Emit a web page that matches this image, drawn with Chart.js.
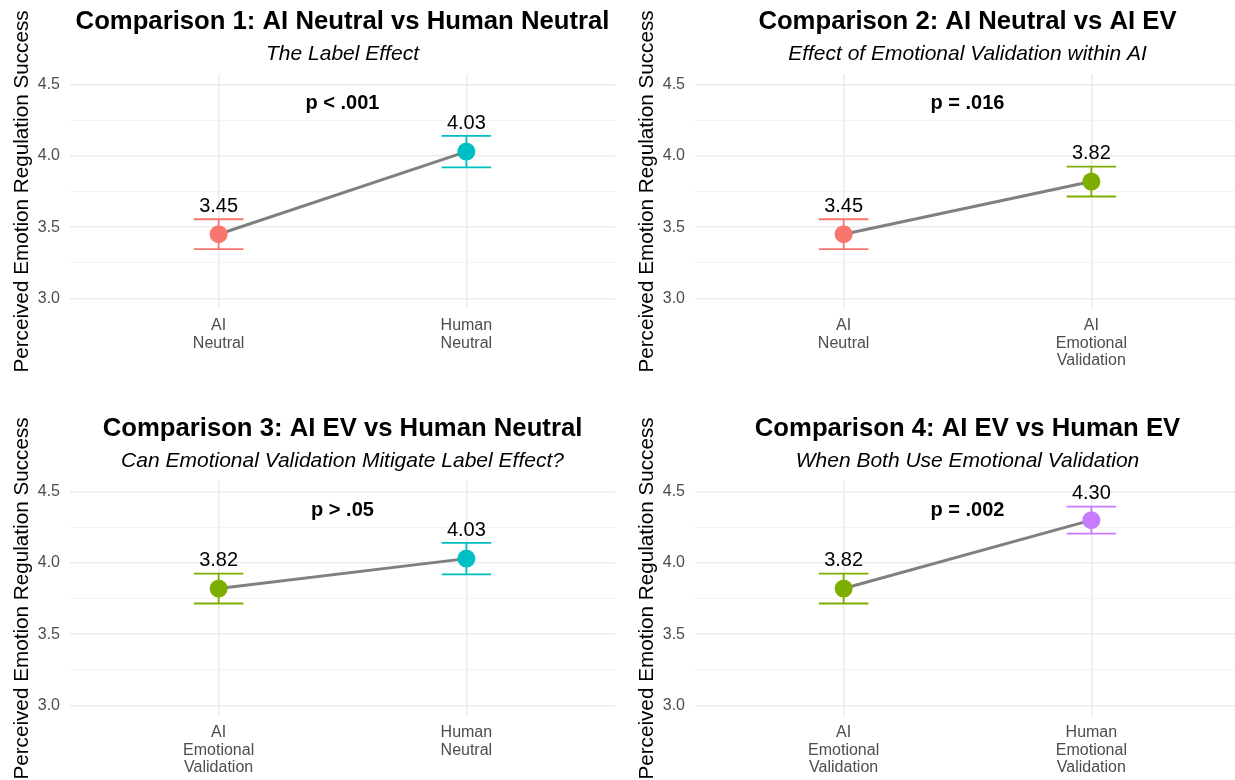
<!DOCTYPE html>
<html>
<head>
<meta charset="utf-8">
<title>Perceived Emotion Regulation Success - comparisons</title>
<script src="https://cdn.jsdelivr.net/npm/chart.js@4.4.1/dist/chart.umd.min.js"></script>
<style>
    body { margin: 0; background: #fff; overflow: hidden; width: 1235px; height: 780px; position: relative; }
    canvas { position: absolute; }
</style>
</head>
<body>
<canvas id="cmp1" width="615" height="373" style="left:0px;top:0px"></canvas>
<canvas id="cmp2" width="615" height="373" style="left:625px;top:0px"></canvas>
<canvas id="cmp3" width="615" height="373" style="left:0px;top:407px"></canvas>
<canvas id="cmp4" width="615" height="373" style="left:625px;top:407px"></canvas>
<script>
// group summaries (mean and standard error)
var groupNames = ['AI Neutral', 'AI Emotional Validation', 'Human Neutral', 'Human Emotional Validation'];
var groupMeans = [3.45, 3.82, 4.03, 4.30];
var groupSE = [0.105, 0.105, 0.11, 0.095];
var groupColors = ['#F8766D', '#7CAE00', '#00BFC4', '#C77CFF'];

// the four comparisons
var comparisonTitles = [
    'Comparison 1: AI Neutral vs Human Neutral',
    'Comparison 2: AI Neutral vs AI EV',
    'Comparison 3: AI EV vs Human Neutral',
    'Comparison 4: AI EV vs Human EV'
];
var comparisonSubtitles = [
    'The Label Effect',
    'Effect of Emotional Validation within AI',
    'Can Emotional Validation Mitigate Label Effect?',
    'When Both Use Emotional Validation'
];
var comparisonPairs = [[0, 2], [0, 1], [1, 2], [1, 3]];
var pLabels = ['p < .001', 'p = .016', 'p > .05', 'p = .002'];

var yTicks = [3.0, 3.25, 3.5, 3.75, 4.0, 4.25, 4.5];
var yTitle = 'Perceived Emotion Regulation Success';

var FONT = "'Liberation Sans', Arial, sans-serif";

var decorPlugin = {
    id: 'decor',
    beforeDatasetsDraw: function (chart, args, opts) {
        // error bars
        var ctx = chart.ctx, xs = chart.scales.x, ys = chart.scales.y;
        var half = xs.getPixelForValue(1.1) - xs.getPixelForValue(1);
        opts.pair.forEach(function (g, i) {
            var x = xs.getPixelForValue(i + 1);
            var top = ys.getPixelForValue(groupMeans[g] + groupSE[g]);
            var bot = ys.getPixelForValue(groupMeans[g] - groupSE[g]);
            ctx.save();
            ctx.strokeStyle = groupColors[g];
            ctx.lineWidth = 1.8;
            ctx.beginPath();
            ctx.moveTo(x, top); ctx.lineTo(x, bot);
            ctx.moveTo(x - half, top); ctx.lineTo(x + half, top);
            ctx.moveTo(x - half, bot); ctx.lineTo(x + half, bot);
            ctx.stroke();
            ctx.restore();
        });
    },
    afterDatasetsDraw: function (chart, args, opts) {
        var ctx = chart.ctx, xs = chart.scales.x, ys = chart.scales.y;
        ctx.save();
        ctx.fillStyle = '#000';
        ctx.textAlign = 'center';
        ctx.textBaseline = 'alphabetic';
        // mean labels above the error bars
        ctx.font = '20px ' + FONT;
        opts.pair.forEach(function (g, i) {
            var x = xs.getPixelForValue(i + 1);
            var y = ys.getPixelForValue(groupMeans[g] + groupSE[g] + 0.1);
            ctx.fillText(groupMeans[g].toFixed(2), x, y + 7);
        });
        // p value
        ctx.font = 'bold 20px ' + FONT;
        ctx.fillText(opts.p, xs.getPixelForValue(1.5), ys.getPixelForValue(4.38) + 7);
        ctx.restore();
    },
    afterDraw: function (chart, args, opts) {
        var ctx = chart.ctx, area = chart.chartArea;
        var cx = (area.left + area.right) / 2;
        ctx.save();
        ctx.fillStyle = '#000';
        ctx.textAlign = 'center';
        ctx.textBaseline = 'alphabetic';
        ctx.font = 'bold 25.7px ' + FONT;
        ctx.fillText(opts.title, cx, 29);
        ctx.font = 'italic 21px ' + FONT;
        ctx.fillText(opts.subtitle, cx, 60);
        ctx.restore();
    }
};

function makePanel(canvasId, k) {
    var pair = comparisonPairs[k];
    var pts = pair.map(function (g, i) { return { x: i + 1, y: groupMeans[g] }; });
    new Chart(document.getElementById(canvasId), {
        data: {
            datasets: [{
                type: 'line',
                data: pts,
                borderColor: '#808080',
                borderWidth: 3,
                pointRadius: 0,
                fill: false,
                order: 2
            }, {
                type: 'scatter',
                data: pts,
                pointRadius: 9,
                pointBorderWidth: 0,
                pointBackgroundColor: pair.map(function (g) { return groupColors[g]; }),
                order: 1
            }]
        },
        options: {
            responsive: false,
            animation: false,
            events: [],
            layout: { autoPadding: false, padding: { top: 74, left: 0, right: 0, bottom: 0 } },
            plugins: {
                legend: { display: false },
                tooltip: { enabled: false },
                decor: {
                    pair: pair,
                    p: pLabels[k],
                    title: comparisonTitles[k],
                    subtitle: comparisonSubtitles[k]
                }
            },
            scales: {
                x: {
                    type: 'linear',
                    min: 0.4,
                    max: 2.6,
                    afterBuildTicks: function (scale) {
                        scale.ticks = [{ value: 1 }, { value: 2 }];
                    },
                    afterFit: function (scale) {
                        scale.height = 64;
                        scale.paddingLeft = 0;
                        scale.paddingRight = 0;
                    },
                    border: { display: false },
                    grid: { color: '#EBEBEB', lineWidth: 1.5, drawTicks: false },
                    ticks: {
                        autoSkip: false,
                        maxRotation: 0,
                        padding: 8,
                        color: '#4D4D4D',
                        font: { family: FONT, size: 16, lineHeight: 1.1 },
                        callback: function (v) {
                            var g = pair[Math.round(v) - 1];
                            return groupNames[g].split(' ');
                        }
                    }
                },
                y: {
                    type: 'linear',
                    min: 2.925,
                    max: 4.575,
                    afterBuildTicks: function (scale) {
                        scale.ticks = yTicks.map(function (v) { return { value: v }; });
                    },
                    afterFit: function (scale) { scale.width = 70; },
                    border: { display: false },
                    grid: {
                        drawTicks: false,
                        color: function (c) { return (c.tick.value * 2) % 1 === 0 ? '#EBEBEB' : '#F3F3F3'; },
                        lineWidth: function (c) { return (c.tick.value * 2) % 1 === 0 ? 1.5 : 1; }
                    },
                    ticks: {
                        autoSkip: false,
                        padding: 10,
                        color: '#4D4D4D',
                        font: { family: FONT, size: 16 },
                        callback: function (v) {
                            return (v * 2) % 1 === 0 ? v.toFixed(1) : '';
                        }
                    },
                    title: {
                        display: true,
                        text: yTitle,
                        color: '#000',
                        font: { family: FONT, size: 20.7 },
                        padding: { top: 10, bottom: 0 }
                    }
                }
            }
        },
        plugins: [decorPlugin]
    });
}

makePanel('cmp1', 0);
makePanel('cmp2', 1);
makePanel('cmp3', 2);
makePanel('cmp4', 3);
</script>
</body>
</html>
